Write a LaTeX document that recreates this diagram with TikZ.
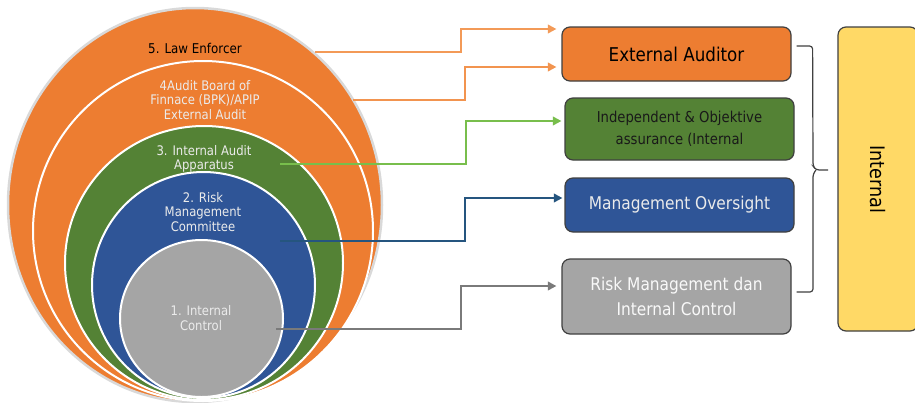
\documentclass[tikz,border=0pt]{standalone}
\usepackage{fontspec}
\setmainfont[FakeStretch=0.88]{DejaVu Sans}
\usetikzlibrary{shapes.geometric,arrows.meta,calc}
\definecolor{cOr}{HTML}{ED7D31}
\definecolor{cOrL}{HTML}{F39A57}
\definecolor{cGr}{HTML}{548235}
\definecolor{cGrL}{HTML}{78BE4C}
\definecolor{cBl}{HTML}{2F5597}
\definecolor{cBlL}{HTML}{25557F}
\definecolor{cGy}{HTML}{A5A5A5}
\definecolor{cGyL}{HTML}{7A7A7A}
\definecolor{cYe}{HTML}{FFD966}
\definecolor{cBd}{HTML}{404040}
\definecolor{cTx}{HTML}{EBEBEB}
\begin{document}
\begin{tikzpicture}[x=1pt,y=-1pt,
  ring/.style={ellipse, draw=white, line width=2pt, inner sep=0pt},
  lbl/.style={align=center, inner sep=0pt, text=cTx, font=\fontsize{13.2}{14.5}\selectfont},
  box/.style={rounded corners=8pt, draw=cBd, line width=1.2pt, inner sep=0pt, align=center},
  conn/.style={line width=2pt, -{Triangle[length=8.5pt,width=8.5pt]}}
]
\useasboundingbox[fill=white] (0,0) rectangle (915,402);
% rings
\node[ring, draw=black!15, line width=2.5pt, fill=cOr, minimum width=374pt, minimum height=394pt] (e5) at (195,205) {};
\node[ring, fill=cOr, minimum width=340pt, minimum height=340pt] (e4) at (203,231) {};
\node[ring, fill=cGr, minimum width=278pt, minimum height=274pt] (e3) at (204,263) {};
\node[ring, fill=cBl, minimum width=223pt, minimum height=226pt] (e2) at (203.5,285) {};
\node[ring, fill=cGy, minimum width=163pt, minimum height=157pt] (e1) at (201.5,318.5) {};
% ring labels
\node[lbl, text=black, font=\fontsize{13.5}{15}\selectfont] (t5) at (195,48) {5. Law Enforcer};
\node[lbl] (t4) at (205,100) {4Audit Board of\\Finnace (BPK)/APIP\\External Audit};
\node[lbl] (t3) at (204,159) {3. Internal Audit\\Apparatus};
\node[lbl] (t2) at (203,212) {2. Risk\\Management\\Committee};
\node[lbl] (t1) at (201,318) {1. Internal\\Control};
% boxes
\node[box, fill=cOr, minimum width=229pt, minimum height=54pt, font=\fontsize{19}{22}\selectfont] (ext) at (676.5,54) {External Auditor};
\node[box, fill=cGr, minimum width=229pt, minimum height=62pt, text=black!90, font=\fontsize{15}{21}\selectfont] (ind) at (679.5,129) {\raisebox{1pt}{Independent \& Objektive}\\assurance (Internal};
\node[box, fill=cBl, minimum width=229pt, minimum height=54pt, text=cTx, font=\fontsize{17.5}{21}\selectfont] (mgt) at (679.5,205) {\raisebox{3pt}{Management Oversight}};
\node[box, fill=cGy, minimum width=229pt, minimum height=75pt, text=white!95!gray, font=\fontsize{17.5}{25}\selectfont] (rsk) at (676.5,296.5) {Risk Management dan\\Internal Control};
\node[box, fill=cYe, rotate=-90, minimum width=304pt, minimum height=80pt, font=\fontsize{20}{24}\selectfont] (int) at (878,179) {Internal};
% connector start points
\coordinate (s5) at (315,52);
\coordinate (s4) at (353,100);
\coordinate (s3) at (280,164);
\coordinate (s2) at (280,241);
\coordinate (s1) at (276,329);
\draw[conn, color=cOrL] (s5) -- ++(146,0) |- ([xshift=-5pt,yshift=25pt]ext.west);
\draw[conn, color=cOrL!80!cOr] (s4) -- ++(112,0) |- ([xshift=-5pt,yshift=-13pt]ext.west);
\draw[conn, color=cGrL] (s3) -- ++(186,0) |- ([xshift=-3pt,yshift=8pt]ind.west);
\draw[conn, color=cBlL] (s2) -- ++(185,0) |- ([xshift=-2pt,yshift=7pt]mgt.west);
\draw[conn, color=cGyL] (s1) -- ++(185,0) |- ([xshift=-5pt,yshift=10.5pt]rsk.west);
% bracket
\coordinate (bt) at ([xshift=5pt,yshift=8pt]ext.east);
\coordinate (bb) at ([xshift=5pt,yshift=4.5pt]rsk.east);
\draw[cBd, line width=1.2pt, rounded corners=3pt] (bt) -- ++(16,0) -- (813,166) -- (816,170) -- (828,170);
\draw[cBd, line width=1.2pt, rounded corners=3pt] (816,170) -- (813,174) -- (813,292) -- (bb);
\end{tikzpicture}
\end{document}
